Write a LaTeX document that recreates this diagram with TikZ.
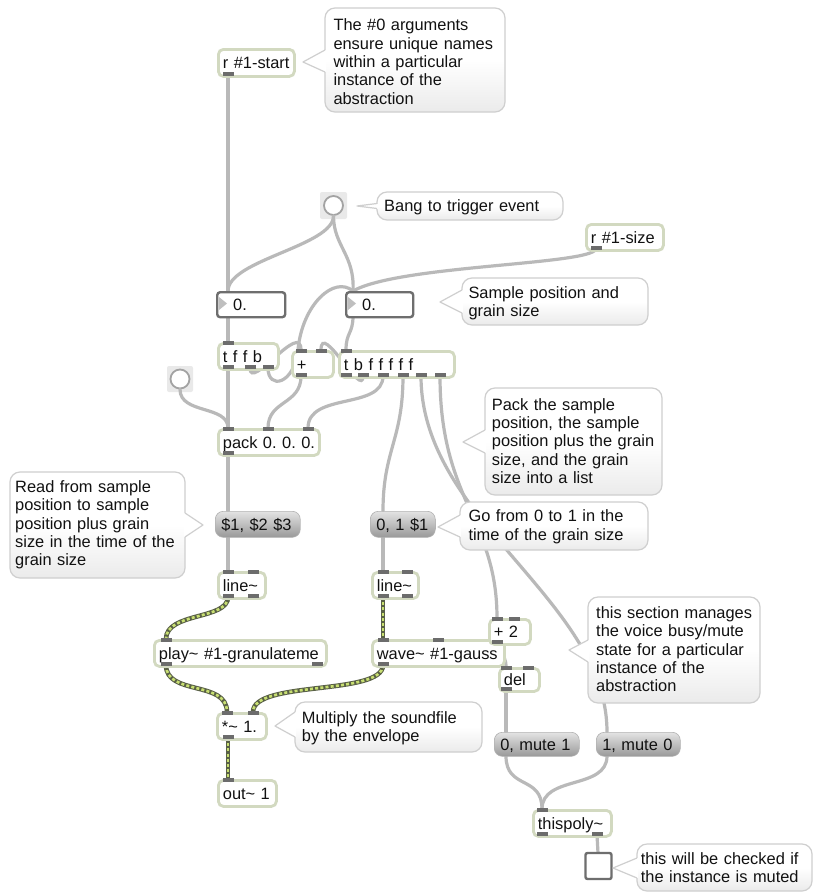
\documentclass[tikz,border=0pt]{standalone}
\usepackage{fontspec}
\setmainfont{Liberation Sans}
\frenchspacing
\definecolor{objedge}{HTML}{D2D9C0}
\definecolor{portc}{HTML}{6C6C6C}
\definecolor{cordc}{HTML}{B9B9B9}
\definecolor{sigdark}{HTML}{596046}
\definecolor{siglight}{HTML}{C8DF72}
\definecolor{numedge}{HTML}{6E6E6E}
\definecolor{bubedge}{HTML}{CFCFCF}
\definecolor{bangbg}{HTML}{E9E9E9}
\definecolor{bangedge}{HTML}{A3A3A3}
\definecolor{txt}{HTML}{111111}

\newcommand\tld{\textasciitilde}

% object box: name, x1, y1, x2, y2, label
\newcommand\maxobj[6]{%
  \pgfmathsetmacro\mxw{#4-#2}\pgfmathsetmacro\mxh{#5-#3}\pgfmathsetmacro\mxt{#4-#2-9}%
  \node[objbox, minimum width=\mxw pt, minimum height=\mxh pt, text width=\mxt pt] (#1) at (#2,#3) {\mbox{#6}};}
% message box: name, x1, y1, x2, y2, label
\newcommand\maxmsg[6]{%
  \pgfmathsetmacro\mxw{#4-#2}\pgfmathsetmacro\mxh{#5-#3}\pgfmathsetmacro\mxt{#4-#2-12}%
  \node[msgbox, minimum width=\mxw pt, minimum height=\mxh pt, text width=\mxt pt] (#1) at (#2,#3) {\mbox{#6}};}
% comment bubble: x1, y1, x2, y2, pointer base x, tip x, tip y, base y1, base y2
\newcommand\bubble[9]{%
  \path[bubbody] (#1,#2) rectangle (#3,#4);
  \fill[white] (#5-1.2,#8) rectangle (#5+1.2,#9);
  \fill[white] (#6,#7) -- (#5,#8) -- (#5,#9) -- cycle;
  \draw[bubline] (#5,#8) -- (#6,#7) -- (#5,#9);}
% inlet / outlet bars
\newcommand\barin[1]{\fill[portc] (#1) ++(-5.5,-1.2) rectangle ++(11,4.4);}
\newcommand\barout[1]{\fill[portc] (#1) ++(-5.5,1.2) rectangle ++(11,-4.4);}

\begin{document}
\begin{tikzpicture}[x=1pt,y=-1pt,
  every node/.style={font=\fontsize{16.4}{18.4}\selectfont, text=txt},
  objbox/.style={anchor=north west, draw=objedge, line width=2.8pt, fill=white,
    rounded corners=5pt, inner sep=0pt, align=left, text height=12.4pt, text depth=0.4pt},
  msgbox/.style={anchor=north west, draw=black!30, line width=0.6pt, top color=black!11,
    bottom color=black!40, rounded corners=8pt, inner sep=0pt, align=left,
    text height=13.4pt, text depth=0.4pt},
  numbox/.style={anchor=north west, draw=numedge, line width=2.4pt, fill=white,
    rounded corners=3pt, inner sep=0pt, align=left, text height=12.4pt, text depth=0.4pt},
  numtri/.style={fill=black!25},
  bangc/.style={circle, draw=bangedge, line width=1.8pt, fill=white, minimum size=19pt, inner sep=0pt},
  bangsq/.style={fill=bangbg, rounded corners=2pt},
  togbox/.style={draw=numedge, line width=2.4pt, fill=white, rounded corners=2pt,
    minimum size=26pt, inner sep=0pt},
  cord/.style={draw=cordc, line width=3.2pt, line cap=round},
  sigcord/.style={draw=sigdark, line width=4.6pt,
    postaction={draw=siglight, line width=2.6pt, dash pattern=on 3pt off 2.2pt}},
  bubbody/.style={draw=bubedge, line width=1.2pt, rounded corners=10pt,
    top color=white, bottom color=black!8, middle color=white},
  bubline/.style={draw=bubedge, line width=1.2pt, line join=round},
  note/.style={anchor=base west, align=left, inner sep=0pt, text width=260pt}]

\fill[white] (0,0) rectangle (814,892);
\useasboundingbox (0,0) rectangle (814,892);

% ---------- port positions ----------
\coordinate (rstart-o) at (228,75);
\coordinate (rsize-o) at (596,249);
\coordinate (numL-i) at (228,291);  \coordinate (numL-o) at (228,316);
\coordinate (numR-i) at (353,291);  \coordinate (numR-o) at (353,316);
\coordinate (tffb-i) at (228,342);
\coordinate (tffb-o1) at (228,368); \coordinate (tffb-o2) at (250,368); \coordinate (tffb-o3) at (268,368);
\coordinate (plus-i1) at (301,350); \coordinate (plus-i2) at (321,350); \coordinate (plus-o) at (301,376);
\coordinate (tbf-i) at (346,350);
\coordinate (tbf-o1) at (346,376); \coordinate (tbf-o2) at (363,376); \coordinate (tbf-o3) at (383,376);
\coordinate (tbf-o4) at (403,376); \coordinate (tbf-o5) at (421,376); \coordinate (tbf-o6) at (440,376);
\coordinate (pack-i1) at (228,428); \coordinate (pack-i2) at (268,428); \coordinate (pack-i3) at (308,428);
\coordinate (pack-o) at (228,454);
\coordinate (mA-i) at (228,511); \coordinate (mA-o) at (228,537);
\coordinate (mB-i) at (383,511); \coordinate (mB-o) at (383,537);
\coordinate (lineL-i1) at (228,571); \coordinate (lineL-i2) at (253,571);
\coordinate (lineL-o1) at (228,597); \coordinate (lineL-o2) at (253,597);
\coordinate (lineR-i1) at (383,571); \coordinate (lineR-i2) at (407,571);
\coordinate (lineR-o1) at (383,597); \coordinate (lineR-o2) at (407,597);
\coordinate (play-i) at (166,639); \coordinate (play-o1) at (166,665); \coordinate (play-o2) at (317,665);
\coordinate (wave-i1) at (383,639); \coordinate (wave-i2) at (438,639); \coordinate (wave-o) at (383,665);
\coordinate (plustwo-i1) at (497,618); \coordinate (plustwo-i2) at (514,618); \coordinate (plustwo-o) at (497,643);
\coordinate (del-i1) at (506,667); \coordinate (del-i2) at (528,667); \coordinate (del-o) at (506,690);
\coordinate (mul-i1) at (227,712); \coordinate (mul-i2) at (253,712); \coordinate (mul-o) at (228,738);
\coordinate (out-i) at (228,779);
\coordinate (mC-i) at (506,732); \coordinate (mC-o) at (506,756);
\coordinate (mD-i) at (607,732); \coordinate (mD-o) at (607,756);
\coordinate (thispoly-i) at (542,809); \coordinate (thispoly-o1) at (542,835); \coordinate (thispoly-o2) at (597,835);
\coordinate (tog-i) at (598,853);
\coordinate (loopA) at (298,350);

% ---------- bangs (drawn first so cords leave from them) ----------
\fill[bangsq] (320,192) rectangle (347,219);
\node[bangc] (bangA) at (333.5,205.5) {};
\fill[bangsq] (167,366) rectangle (193,392);
\node[bangc] (bangB) at (180,379) {};

% ---------- control cords ----------
\draw[cord] (rstart-o) -- (numL-i);
\draw[cord] (bangA.south) .. controls +(0,30) and +(0,-31) .. (numL-i);
\draw[cord] (bangA.south) .. controls +(0,30) and +(2,-36) .. (numR-i);
\draw[cord] (rsize-o) .. controls +(-6,16) and +(46,-26) .. (numR-i);
\draw[cord] (tffb-o3) .. controls +(0,22) and +(-4,35) .. (loopA)
  .. controls +(4,-45) and +(-19,-16) .. (numR-i);
\draw[cord] (numL-o) -- (tffb-i);
\draw[cord] (numR-o) .. controls +(0,18) and +(0,-18) .. (tbf-i);
\draw[cord] (tffb-o2) .. controls +(0,24) and +(0,-30) .. (plus-i1);
\draw[cord] (tbf-o2) .. controls +(0,24) and +(0,-30) .. (plus-i2);
\draw[cord] (tffb-o1) -- (pack-i1);
\draw[cord] (bangB.south) .. controls +(0,25) and +(0,-23) .. (pack-i1);
\draw[cord] (plus-o) .. controls +(0,29) and +(0,-28) .. (pack-i2);
\draw[cord] (tbf-o3) .. controls +(0,34) and +(0,-36) .. (pack-i3);
\draw[cord] (pack-o) -- (mA-i);
\draw[cord] (tbf-o4) .. controls +(0,64) and +(0,-61) .. (mB-i);
\draw[cord] (mA-o) -- (lineL-i1);
\draw[cord] (mB-o) -- (lineR-i1);
\draw[cord] (tbf-o5) .. controls +(0,144) and +(0,-132) .. (mD-i);
\draw[cord] (tbf-o6) .. controls +(0,124) and +(0,-98) .. (plustwo-i1);
\draw[cord] (plustwo-o) .. controls +(0,13) and +(0,-15) .. (del-i1);
\draw[cord] (del-o) -- (mC-i);
\draw[cord] (mC-o) .. controls +(0,34) and +(0,-34) .. (thispoly-i);
\draw[cord] (mD-o) .. controls +(0,34) and +(0,-34) .. (thispoly-i);
\draw[cord] (thispoly-o2) -- (tog-i);

% ---------- signal cords ----------
\draw[sigcord] (lineL-o1) .. controls +(0,23) and +(0,-27) .. (play-i);
\draw[sigcord] (lineR-o1) -- (wave-i1);
\draw[sigcord] (play-o1) .. controls +(0,31) and +(0,-32) .. (mul-i1);
\draw[sigcord] (wave-o) .. controls +(0,31) and +(0,-32) .. (mul-i2);
\draw[sigcord] (mul-o) -- (out-i);

% ---------- objects ----------
\maxobj{rstart}{217}{48}{293}{75}{r \#1-start}
\maxobj{rsize}{585}{223}{662}{249}{r \#1-size}
\node[numbox, minimum width=68pt, minimum height=25pt, text width=36pt] (numL) at (216,291) {0.};
\fill[numtri] (219,297) -- (227,303.5) -- (219,310) -- cycle;
\node[numbox, minimum width=67pt, minimum height=25pt, text width=35pt] (numR) at (345,291) {0.};
\fill[numtri] (348,297) -- (356,303.5) -- (348,310) -- cycle;
\maxobj{tffb}{217}{342}{277}{368}{t f f b}
\maxobj{plus}{291}{350}{332}{376}{+}
\maxobj{tbf}{338}{350}{453}{376}{t b f f f f f}
\maxobj{pack}{217}{428}{318}{454}{pack 0. 0. 0.}
\maxmsg{mA}{215}{511}{300}{537}{\$1, \$2 \$3}
\maxmsg{mB}{370}{511}{435}{537}{0, 1 \$1}
\maxobj{lineL}{217}{571}{264}{597}{line\tld}
\maxobj{lineR}{371}{571}{417}{597}{line\tld}
\maxobj{play}{153}{639}{325}{665}{play\tld{} \#1-granulateme}
\maxobj{wave}{371}{639}{503}{665}{wave\tld{} \#1-gauss}
\maxobj{plustwo}{488}{618}{529}{643}{+ 2}
\maxobj{del}{498}{667}{538}{690}{del}
\maxobj{mul}{216}{712}{265}{738}{*\tld{} 1.}
\maxobj{out}{217}{779}{275}{805}{out\tld{} 1}
\maxmsg{mC}{494}{732}{579}{756}{0, mute 1}
\maxmsg{mD}{596}{732}{680}{756}{1, mute 0}
\maxobj{thispoly}{532}{809}{610}{835}{thispoly\tld}
\node[togbox] (tog) at (598.5,866) {};

% ---------- inlets and outlets ----------
\barout{rstart-o}
\barout{rsize-o}
\barin{tffb-i} \barout{tffb-o1} \barout{tffb-o2} \barout{tffb-o3}
\barin{plus-i1} \barin{plus-i2} \barout{plus-o}
\barin{tbf-i} \barout{tbf-o1} \barout{tbf-o2} \barout{tbf-o3} \barout{tbf-o4} \barout{tbf-o5} \barout{tbf-o6}
\barin{pack-i1} \barin{pack-i2} \barin{pack-i3} \barout{pack-o}
\barin{lineL-i1} \barin{lineL-i2} \barout{lineL-o1} \barout{lineL-o2}
\barin{lineR-i1} \barin{lineR-i2} \barout{lineR-o1} \barout{lineR-o2}
\barin{play-i} \barout{play-o1} \barout{play-o2}
\barin{wave-i1} \barin{wave-i2} \barout{wave-o}
\barin{plustwo-i1} \barin{plustwo-i2} \barout{plustwo-o}
\barin{del-i1} \barin{del-i2} \barout{del-o}
\barin{mul-i1} \barin{mul-i2} \barout{mul-o}
\barin{out-i}
\barin{thispoly-i} \barout{thispoly-o1} \barout{thispoly-o2}

% ---------- comments ----------
\bubble{325}{8}{505}{112}{325}{303}{62}{50}{72}
\node[note] (noteA) at (333.3,30.7) {The \#0 arguments\\ensure unique names\\within a particular\\instance of the\\abstraction};
\bubble{377}{192}{563}{220}{377}{357}{206}{203.5}{208.5}
\node[note] (noteB) at (384,211.7) {Bang to trigger event};
\bubble{462}{278}{648}{325}{462}{440}{302}{290}{313}
\node[note] (noteC) at (468.3,298.3) {Sample position and\\grain size};
\bubble{485}{388}{662}{495}{485}{463}{442}{430}{453}
\node[note] (noteD) at (491.7,410) {Pack the sample\\position, the sample\\position plus the grain\\size, and the grain\\size into a list};
\bubble{10}{472}{185}{578}{185}{203}{525}{513}{537}
\node[note] (noteE) at (15,492.3) {Read from sample\\position to sample\\position plus grain\\size in the time of the\\grain size};
\bubble{460}{502}{648}{550}{460}{438}{527}{515}{537}
\node[note] (noteF) at (468.3,521.7) {Go from 0 to 1 in the\\time of the grain size};
\bubble{588}{597}{760}{703}{588}{569}{650}{640}{662}
\node[note] (noteG) at (596,618.3) {this section manages\\the voice busy/mute\\state for a particular\\instance of the\\abstraction};
\bubble{295}{702}{482}{752}{295}{275}{726}{712}{737}
\node[note] (noteH) at (301.7,723.3) {Multiply the soundfile\\by the envelope};
\bubble{637}{844}{812}{891}{637}{613}{868}{858}{878}
\node[note] (noteI) at (640.7,864) {this will be checked if\\the instance is muted};

\end{tikzpicture}
\end{document}
